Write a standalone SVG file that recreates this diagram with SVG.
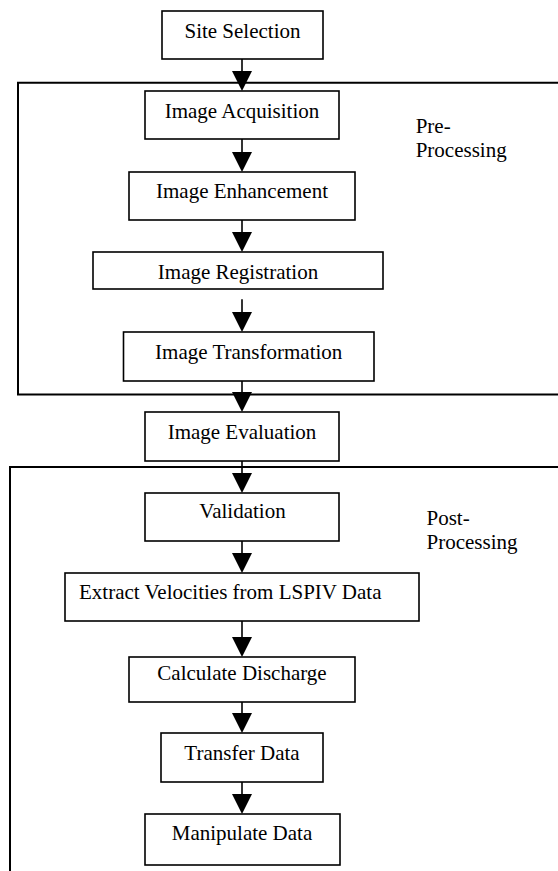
<svg xmlns="http://www.w3.org/2000/svg" width="558" height="871" viewBox="0 0 558 871">
<style>
.box rect{fill:#fff;stroke:#000;stroke-width:1.6}
text{font-size:21px;fill:#000;font-family:'Liberation Serif','Times New Roman',serif}
.c{text-anchor:middle}
.frame{fill:none;stroke:#000;stroke-width:2}
.shaft{stroke:#000;stroke-width:1.6;fill:none}
.head{fill:#000;stroke:none}
</style>
<rect width="558" height="871" fill="#fff"/>
<g id="frames">
<path id="pre-frame" class="frame" d="M558,82.7 H18 V394.5 H558"/>
<path id="post-frame" class="frame" d="M558,467 H10 V871"/>
</g>
<g id="labels">
<text x="415.7" y="133">Pre-</text>
<text x="415.7" y="157">Processing</text>
<text x="426.5" y="525">Post-</text>
<text x="426.5" y="549">Processing</text>
</g>
<g id="connectors">
<line class="shaft" x1="242" y1="59" x2="242" y2="72"/><polygon class="head" points="232,71 252,71 242,91"/>
<line class="shaft" x1="242" y1="139" x2="242" y2="153"/><polygon class="head" points="232,152 252,152 242,172"/>
<line class="shaft" x1="242" y1="220" x2="242" y2="233"/><polygon class="head" points="232,232 252,232 242,252"/>
<line class="shaft" x1="242" y1="299.3" x2="242" y2="313"/><polygon class="head" points="232,312 252,312 242,332"/>
<line class="shaft" x1="242" y1="381" x2="242" y2="393"/><polygon class="head" points="232,392 252,392 242,412"/>
<line class="shaft" x1="242" y1="461" x2="242" y2="474"/><polygon class="head" points="232,473 252,473 242,493"/>
<line class="shaft" x1="242" y1="541" x2="242" y2="554"/><polygon class="head" points="232,553 252,553 242,573"/>
<line class="shaft" x1="242" y1="621" x2="242" y2="638"/><polygon class="head" points="232,637 252,637 242,657"/>
<line class="shaft" x1="242" y1="702" x2="242" y2="714"/><polygon class="head" points="232,713 252,713 242,733"/>
<line class="shaft" x1="242" y1="782" x2="242" y2="795"/><polygon class="head" points="232,794 252,794 242,814"/>
</g>
<g id="site-selection" class="box"><rect x="162" y="11" width="161" height="48"/><text class="c" x="242.5" y="37.5">Site Selection</text></g>
<g id="image-acquisition" class="box"><rect x="145" y="91" width="194" height="48"/><text class="c" x="242" y="118">Image Acquisition</text></g>
<g id="image-enhancement" class="box"><rect x="129" y="172" width="226" height="48"/><text class="c" x="242" y="198">Image Enhancement</text></g>
<g id="image-registration" class="box"><rect x="93" y="252" width="290" height="37"/><text class="c" x="238" y="279">Image Registration</text></g>
<g id="image-transformation" class="box"><rect x="123.5" y="332" width="250.5" height="49"/><text class="c" x="248.7" y="358.5">Image Transformation</text></g>
<g id="image-evaluation" class="box"><rect x="145" y="412" width="194" height="49"/><text class="c" x="242" y="439">Image Evaluation</text></g>
<g id="validation" class="box"><rect x="145" y="493" width="194" height="48"/><text class="c" x="242.5" y="518">Validation</text></g>
<g id="extract-velocities" class="box"><rect x="65" y="573" width="354" height="48"/><text x="79" y="599" font-size="21.3">Extract Velocities from LSPIV Data</text></g>
<g id="calculate-discharge" class="box"><rect x="129" y="657" width="226" height="45"/><text class="c" x="242" y="680">Calculate Discharge</text></g>
<g id="transfer-data" class="box"><rect x="161" y="733" width="162" height="49"/><text class="c" x="242" y="760">Transfer Data</text></g>
<g id="manipulate-data" class="box"><rect x="145" y="814" width="195" height="51"/><text class="c" x="242" y="840">Manipulate Data</text></g>
</svg>
